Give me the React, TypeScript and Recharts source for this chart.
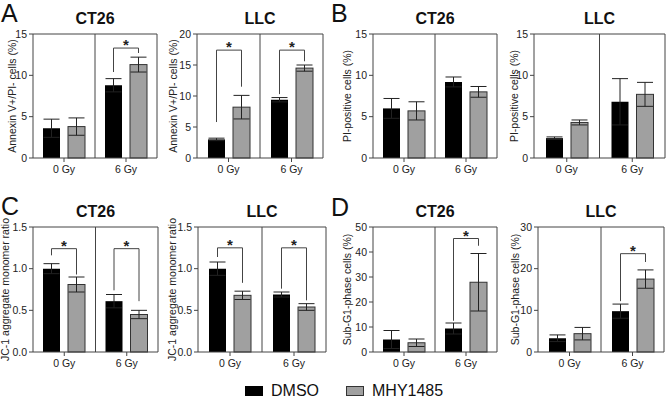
import React from "react";
import { Bar, BarChart, ErrorBar, ReferenceLine, XAxis, YAxis } from "recharts";

const groups = ["0 Gy", "6 Gy"];

// [mean, error] for 0 Gy and 6 Gy
const annexinCT26Dmso = [[3.6, 1.1], [8.8, 0.8]];
const annexinCT26Mhy = [[3.8, 1.05], [11.3, 0.9]];
const annexinLLCDmso = [[3.0, 0.2], [9.4, 0.35]];
const annexinLLCMhy = [[8.2, 1.9], [14.5, 0.5]];
const piCT26Dmso = [[6.0, 1.2], [9.2, 0.6]];
const piCT26Mhy = [[5.7, 1.1], [8.0, 0.65]];
const piLLCDmso = [[2.4, 0.15], [6.8, 2.8]];
const piLLCMhy = [[4.3, 0.3], [7.7, 1.45]];
const jc1CT26Dmso = [[1.0, 0.06], [0.61, 0.08]];
const jc1CT26Mhy = [[0.81, 0.09], [0.45, 0.05]];
const jc1LLCDmso = [[1.0, 0.08], [0.69, 0.03]];
const jc1LLCMhy = [[0.68, 0.05], [0.54, 0.04]];
const subG1CT26Dmso = [[5.0, 3.6], [9.4, 2.2]];
const subG1CT26Mhy = [[3.7, 1.5], [27.9, 11.5]];
const subG1LLCDmso = [[3.3, 0.8], [9.8, 1.7]];
const subG1LLCMhy = [[4.4, 1.5], [17.5, 2.2]];

// significance brackets: [top, left leg end, right leg end] or null
const annexinCT26Sig = [null, [13.3, 10.4, 12.7]];
const annexinLLCSig = [[17.4, 5.8, 11.5], [17.4, 10.3, 15.6]];
const noSig = [null, null];
const jc1CT26Sig = [[1.24, 1.16, 0.93], [1.24, 0.74, 0.61]];
const jc1LLCSig = [[1.25, 1.14, 0.83], [1.25, 0.76, 0.62]];
const subG1CT26Sig = [null, [45.4, 12.5, 42.5]];
const subG1LLCSig = [null, [23.6, 12.2, 21.6]];

const ticks15 = [0, 5, 10, 15];
const ticks20 = [0, 5, 10, 15, 20];
const ticksRatio = [0, 0.5, 1.0, 1.5];
const ticks50 = [0, 10, 20, 30, 40, 50];
const ticks30 = [0, 10, 20, 30];

const FONT = "'Liberation Sans', Arial, sans-serif";
const LINE = "#444";
const GRAY = "#a0a0a0";
const BAR_SIZE = 17;
const BAR_GAP = 8;

const panels = [
  { title: "CT26", yLabel: "Annexin V+/PI- cells (%)", dmso: annexinCT26Dmso, mhy: annexinCT26Mhy, sig: annexinCT26Sig, ticks: ticks15, box: [33, 34, 157, 158], gap: 21 },
  { title: "LLC", yLabel: "Annexin V+/PI- cells (%)", dmso: annexinLLCDmso, mhy: annexinLLCMhy, sig: annexinLLCSig, ticks: ticks20, box: [197, 34, 323, 158], gap: 24 },
  { title: "CT26", yLabel: "PI-positive cells (%)", dmso: piCT26Dmso, mhy: piCT26Mhy, sig: noSig, ticks: ticks15, box: [373, 34, 497, 158], gap: 26 },
  { title: "LLC", yLabel: "PI-positive cells (%)", dmso: piLLCDmso, mhy: piLLCMhy, sig: noSig, ticks: ticks15, box: [534, 34, 665, 158], gap: 20 },
  { title: "CT26", yLabel: "JC-1 aggregate monomer ratio", dmso: jc1CT26Dmso, mhy: jc1CT26Mhy, sig: jc1CT26Sig, ticks: ticksRatio, box: [33, 227, 158, 352], gap: 28, fixed: true },
  { title: "LLC", yLabel: "JC-1 aggregate monomer ratio", dmso: jc1LLCDmso, mhy: jc1LLCMhy, sig: jc1LLCSig, ticks: ticksRatio, box: [198, 227, 326, 352], gap: 26, fixed: true },
  { title: "CT26", yLabel: "Sub-G1-phase cells (%)", dmso: subG1CT26Dmso, mhy: subG1CT26Mhy, sig: subG1CT26Sig, ticks: ticks50, box: [373, 227, 497, 352], gap: 26 },
  { title: "LLC", yLabel: "Sub-G1-phase cells (%)", dmso: subG1LLCDmso, mhy: subG1LLCMhy, sig: subG1LLCSig, ticks: ticks30, box: [538, 227, 664, 352], gap: 23 },
];

const letters = [
  { text: "A", x: 1, y: 0 },
  { text: "B", x: 331, y: 0 },
  { text: "C", x: 1, y: 193 },
  { text: "D", x: 331, y: 194 },
];

function YLabel(props: any) {
  const vb = props.viewBox;
  if (!vb) return null;
  const cx = vb.x + vb.width - props.gap;
  const cy = vb.y + vb.height / 2;
  return (
    <text x={cx} y={cy} transform={`rotate(-90, ${cx}, ${cy})`} textAnchor="middle" dominantBaseline="central"
      fontSize={10.5} fill="#222" fontFamily={FONT}>
      {props.text}
    </text>
  );
}

// gray bar + significance bracket drawn from the library's bar geometry
function MhyBar(props: any) {
  const { x, y, width, height } = props;
  const row = props.payload || props;
  const rect = <rect x={x} y={y} width={width} height={height} fill={GRAY} stroke="#333" strokeWidth={1} />;
  if (!row.sig) return rect;
  const [top, left, right] = row.sig;
  const base = y + height;
  const k = height / row.mhy;
  const py = (v: number) => base - v * k;
  const xr = x + width / 2;
  const xl = xr - (width + BAR_GAP);
  return (
    <g>
      {rect}
      <path d={`M${xl},${py(left)}V${py(top)}H${xr}V${py(right)}`} fill="none" stroke={LINE} strokeWidth={1} />
      <text x={(xl + xr) / 2} y={py(top) + 2} textAnchor="middle" fontSize={15} fontWeight="bold" fill="#222" fontFamily={FONT}>*</text>
    </g>
  );
}

function Panel({ cfg }: { cfg: any }) {
  const [l, t, r, b] = cfg.box;
  const padL = 40, padT = 30, padB = 30, padR = 4;
  const max = cfg.ticks[cfg.ticks.length - 1];
  const data = groups.map((g, i) => ({
    group: g,
    dmso: cfg.dmso[i][0],
    dmsoErr: cfg.dmso[i][1],
    mhy: cfg.mhy[i][0],
    mhyErr: cfg.mhy[i][1],
    sig: cfg.sig[i],
  }));
  return (
    <>
      <div style={{ position: "absolute", left: l - padL, top: t - padT }}>
        <BarChart width={r - l + padL + padR} height={b - t + padT + padB} data={data}
          margin={{ top: padT, right: padR, left: padL - 30, bottom: 0 }} barSize={BAR_SIZE} barGap={BAR_GAP}>
          <XAxis dataKey="group" height={padB} interval={0} tickSize={4} tickMargin={4}
            tick={{ fontSize: 10.5, fill: "#222", fontFamily: FONT }} axisLine={{ stroke: LINE }} tickLine={{ stroke: LINE }} />
          <YAxis width={30} domain={[0, max]} ticks={cfg.ticks} interval={0} tickSize={4} tickMargin={2}
            tickFormatter={(v: number) => (cfg.fixed ? v.toFixed(1) : String(v))}
            tick={{ fontSize: 10.5, fill: "#222", fontFamily: FONT }} axisLine={{ stroke: LINE }} tickLine={{ stroke: LINE }}
            label={<YLabel text={cfg.yLabel} gap={cfg.gap} />} />
          <ReferenceLine x="6 Gy" position="start" stroke={LINE} />
          <ReferenceLine x="6 Gy" position="end" stroke={LINE} />
          <ReferenceLine y={max} stroke={LINE} />
          <Bar dataKey="dmso" fill="#000" isAnimationActive={false}>
            <ErrorBar dataKey="dmsoErr" width={8} stroke="#222" strokeWidth={1} isAnimationActive={false} />
          </Bar>
          <Bar dataKey="mhy" fill={GRAY} isAnimationActive={false} shape={MhyBar}>
            <ErrorBar dataKey="mhyErr" width={8} stroke="#222" strokeWidth={1} isAnimationActive={false} />
          </Bar>
        </BarChart>
      </div>
      <div style={{ position: "absolute", left: l, top: t - 24, width: r - l, textAlign: "center", fontSize: 16, fontWeight: "bold", lineHeight: "18px", color: "#111" }}>
        {cfg.title}
      </div>
    </>
  );
}

export default function App() {
  return (
    <div style={{ position: "absolute", left: 0, top: 0, width: 666, height: 410, overflow: "hidden", background: "#fff", fontFamily: FONT }}>
      {panels.map((cfg, i) => (
        <Panel key={i} cfg={cfg} />
      ))}
      {letters.map((p) => (
        <div key={p.text} style={{ position: "absolute", left: p.x, top: p.y, fontSize: 25, lineHeight: "26px", color: "#111" }}>
          {p.text}
        </div>
      ))}
      <div style={{ position: "absolute", left: 245, top: 382, display: "flex", alignItems: "center", fontSize: 16, color: "#111" }}>
        <span style={{ display: "inline-block", width: 18, height: 10, background: "#000", marginRight: 8 }} />
        <span style={{ marginRight: 27 }}>DMSO</span>
        <span style={{ display: "inline-block", width: 16, height: 8, background: GRAY, border: "1px solid #333", marginRight: 8 }} />
        <span>MHY1485</span>
      </div>
    </div>
  );
}
